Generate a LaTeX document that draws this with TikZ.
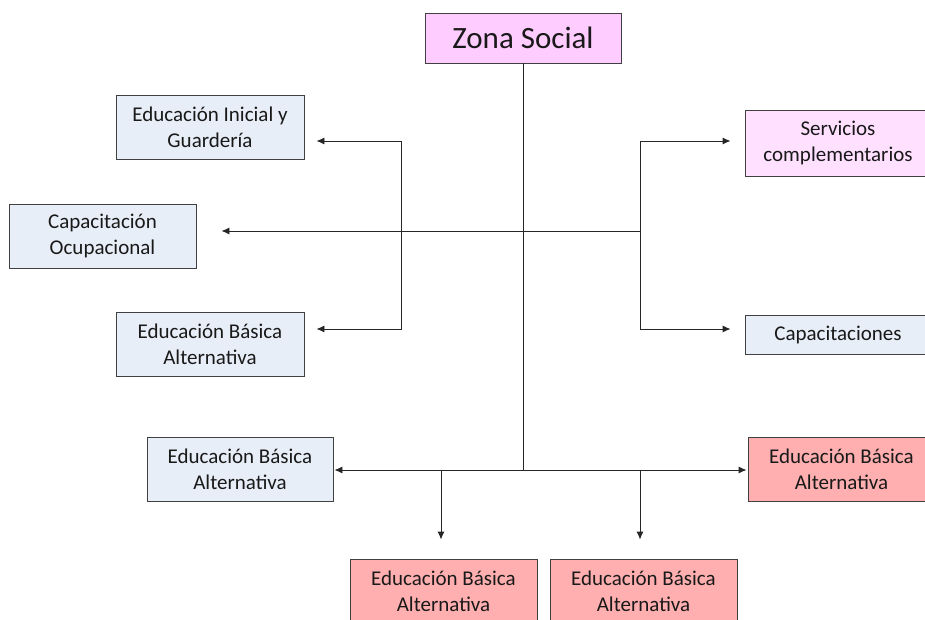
\documentclass[tikz,border=0pt]{standalone}
\usepackage{fontspec}
\setmainfont{Carlito}
\usetikzlibrary{arrows.meta}
\definecolor{bluef}{HTML}{E8EEF7}
\definecolor{pinkz}{HTML}{FFCCFF}
\definecolor{pinks}{HTML}{FFE0FF}
\definecolor{redf}{HTML}{FFAFAF}
\definecolor{edge}{HTML}{404040}
\tikzset{
  box/.style={draw=edge, line width=0.9pt, rectangle, align=center, inner sep=2pt,
    font=\fontsize{21}{26}\selectfont, text=black!90},
  bluebox/.style={box, fill=bluef},
  redbox/.style={box, fill=redf},
  arr/.style={-{Latex[length=8pt,width=7pt]}, line width=0.9pt, draw=black!85},
  ln/.style={line width=0.9pt, draw=black!85}
}
\begin{document}
\begin{tikzpicture}[x=1pt,y=-1pt]
\useasboundingbox (0,0) rectangle (925,620);
\node[box, fill=pinkz, minimum width=196pt, minimum height=50pt, font=\fontsize{31}{36}\selectfont] (zona) at (523,38) {Zona Social};
\node[bluebox, minimum width=188pt, minimum height=64pt] (ini) at (210,127) {Educación Inicial y\\Guardería};
\node[bluebox, minimum width=187pt, minimum height=64pt] (cap) at (102.5,236) {Capacitación\\Ocupacional};
\node[bluebox, minimum width=188pt, minimum height=64pt] (ebaA) at (210,344) {Educación Básica\\Alternativa};
\node[box, fill=pinks, minimum width=186pt, minimum height=66pt] (serv) at (838,143) {Servicios\\complementarios};
\node[bluebox, minimum width=186pt, minimum height=39pt] (capac) at (838,334.5) {Capacitaciones};
\node[bluebox, minimum width=186pt, minimum height=64pt] (ebaB) at (240,469) {Educación Básica\\Alternativa};
\node[redbox, minimum width=187pt, minimum height=64pt] (ebaR) at (841.5,469) {Educación Básica\\Alternativa};
\node[redbox, minimum width=187pt, minimum height=64pt] (ebaD1) at (443.5,591) {Educación Básica\\Alternativa};
\node[redbox, minimum width=187pt, minimum height=64pt] (ebaD2) at (643.5,591) {Educación Básica\\Alternativa};

\coordinate (jc) at (523,231);
\coordinate (jb) at (523,470);
\coordinate (lb) at (401,231);
\coordinate (rb) at (640,231);
\coordinate (d1) at (441,470);
\coordinate (d2) at (640,470);

\draw[ln] (zona.south) -- (jb);
\draw[ln] (jc) -- (rb);
\draw[arr, shorten >=25pt] (jc) -- (jc -| cap.east);
\draw[arr, shorten >=12pt] (lb) |- ([yshift=-14pt]ini.east);
\draw[arr, shorten >=12pt] (lb) |- ([yshift=15pt]ebaA.east);
\draw[arr, shorten >=14pt] (rb) |- ([yshift=2pt]serv.west);
\draw[arr, shorten >=14pt] (rb) |- ([yshift=5.5pt]capac.west);
\draw[arr, shorten >=1pt] (jb) -- (jb -| ebaB.east);
\draw[arr, shorten >=1pt] (jb) -- (jb -| ebaR.west);
\draw[arr, shorten >=19pt] (d1) -- (d1 |- ebaD1.north);
\draw[arr, shorten >=19pt] (d2) -- (d2 |- ebaD2.north);
\end{tikzpicture}
\end{document}
